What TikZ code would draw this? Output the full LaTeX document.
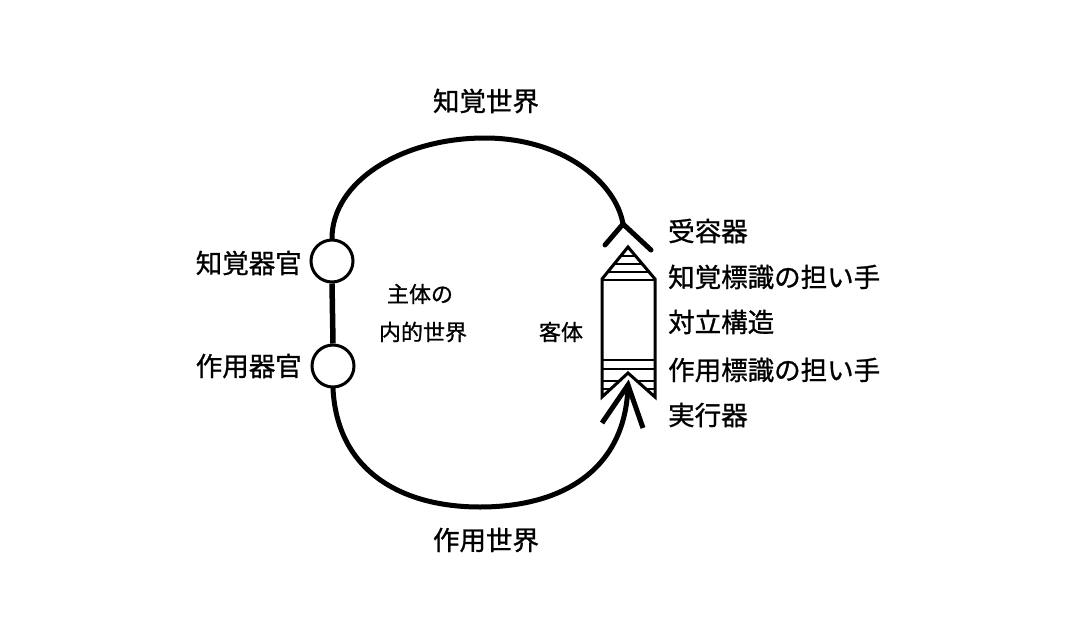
\documentclass[tikz,border=0pt]{standalone}
\usepackage{fontspec}
\setmainfont{Noto Sans CJK JP}
\newfontfamily\jpmed{Noto Sans CJK JP}[FakeBold=1]
\begin{document}
\begin{tikzpicture}[x=1pt,y=-1pt,
  curve/.style={line width=5pt, line cap=round},
  organ/.style={circle, draw, line width=3pt, minimum size=42pt, inner sep=0pt},
  lab/.style={font=\jpmed\fontsize{26.5}{26.5}\selectfont, inner sep=0pt},
  smalllab/.style={font=\jpmed\fontsize{22}{22}\selectfont, inner sep=0pt},
  objline/.style={line width=3pt, line join=miter},
  stripe/.style={line width=2.5pt}]
\useasboundingbox (0,0) rectangle (1080,640);
% organs
\node[organ] (po) at (332,261) {};
\node[organ] (eo) at (333,366) {};
\draw[line width=5.5pt] (po.south) -- (eo.north);
% receptor and effector points
\coordinate (rj) at (623,224);
\coordinate (rl) at (605,245);
\coordinate (rr) at (651,250);
\coordinate (et) at (628,385);
\coordinate (el) at (602,423);
\coordinate (er) at (643,428);
% perceptual world curve
\draw[curve] (po.north) .. controls (332,182) and (401,138) .. (485,138)
   .. controls (562,138) and (616,182) .. (rj);
\draw[curve] (rl) -- (rj) -- (rr);
% effect world curve
\draw[curve] (eo.south) .. controls (337,470) and (400,507) .. (480,507)
   .. controls (562,507) and (626,470) .. (et);
\draw[curve, line cap=butt] (el) -- (et) -- (er);
% object
\path[save path=\objpath] (628,247) -- (602,279) -- (602,397) -- (628,373) -- (655,397) -- (655,279) -- cycle;
\begin{scope}
  \clip[use path=\objpath];
  \foreach \yy in {256,264,272,280,360,369,381,389}
    \draw[stripe] (590,\yy) -- (670,\yy);
\end{scope}
\draw[objline, use path=\objpath];
% labels
\node[lab] (pw) at (486,101) {知覚世界};
\node[lab] (ew) at (486,540) {作用世界};
\node[lab, anchor=east] (pol) at (302,263) {知覚器官};
\node[lab, anchor=east] (eol) at (302,366) {作用器官};
\node[lab, anchor=west] (rec) at (668,231) {受容器};
\node[lab, anchor=west] (pmc) at (668,277) {知覚標識の担い手};
\node[lab, anchor=west] (cs) at (668,322) {対立構造};
\node[lab, anchor=west] (emc) at (668,370) {作用標識の担い手};
\node[lab, anchor=west] (eff) at (668,415) {実行器};
\node[smalllab] (s1) at (420,294) {主体の};
\node[smalllab] (s2) at (423,332) {内的世界};
\node[smalllab] (obj) at (561,332) {客体};
\end{tikzpicture}
\end{document}
